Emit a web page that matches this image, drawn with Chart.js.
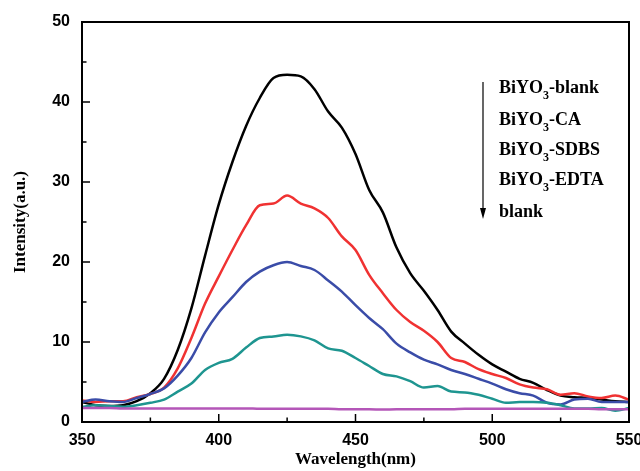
<!DOCTYPE html>
<html>
<head>
<meta charset="utf-8">
<script src="https://cdn.jsdelivr.net/npm/chart.js@4"></script>
<style>
  body { margin: 0; background: #fff; }
  canvas { display: block; }
</style>
</head>
<body>
<canvas id="chart_pl" width="640" height="471"></canvas>
<script>
// PL spectra of BiYO3 samples

// wavelength grid (nm)
var wavelengths = [350, 355, 360, 365, 370, 375, 380, 385, 390, 395,
                   400, 405, 410, 415, 420, 425, 430, 435, 440, 445,
                   450, 455, 460, 465, 470, 475, 480, 485, 490, 495,
                   500, 505, 510, 515, 520, 525, 530, 535, 540, 545, 550];

// intensities
var blankBiYO3 = [2.5, 2.1, 2.0, 2.1, 2.6, 3.6, 5.4, 9.0, 14.2, 20.8,
                  27.2, 32.5, 37.0, 40.5, 43.0, 43.4, 43.2, 41.6, 38.8, 36.8,
                  33.5, 29.0, 26.2, 21.8, 18.6, 16.4, 14.0, 11.3, 9.8, 8.4,
                  7.2, 6.3, 5.4, 4.9, 4.0, 3.3, 3.1, 3.0, 2.8, 2.6, 2.5];
var caBiYO3 = [2.7, 2.5, 2.6, 2.6, 3.1, 3.5, 4.3, 6.7, 10.5, 14.8,
               18.2, 21.5, 24.6, 27.1, 27.3, 28.3, 27.3, 26.7, 25.5, 23.2,
               21.5, 18.4, 16.1, 14.0, 12.5, 11.4, 10.0, 8.0, 7.5, 6.6,
               6.0, 5.5, 4.7, 4.3, 4.1, 3.4, 3.6, 3.2, 3.0, 3.3, 2.8];
var sdbsBiYO3 = [2.5, 2.8, 2.6, 2.5, 3.0, 3.5, 4.2, 5.8, 8.0, 11.2,
                 13.7, 15.6, 17.5, 18.8, 19.6, 20.0, 19.5, 19.0, 17.7, 16.3,
                 14.6, 13.0, 11.6, 9.8, 8.7, 7.8, 7.2, 6.5, 6.0, 5.4,
                 4.8, 4.1, 3.6, 3.3, 2.4, 2.2, 2.8, 2.9, 2.5, 2.5, 2.5];
var edtaBiYO3 = [1.9, 2.1, 2.0, 1.9, 2.1, 2.4, 2.8, 3.8, 4.8, 6.5,
                 7.4, 7.9, 9.3, 10.5, 10.7, 10.9, 10.7, 10.2, 9.2, 8.9,
                 8.0, 7.0, 6.0, 5.7, 5.1, 4.3, 4.5, 3.8, 3.7, 3.4,
                 2.9, 2.4, 2.5, 2.5, 2.4, 2.1, 1.7, 1.7, 1.75, 1.4, 1.75];
var blankOnly = [1.75, 1.75, 1.75, 1.7, 1.7, 1.7, 1.7, 1.7, 1.7, 1.7,
                 1.7, 1.7, 1.7, 1.65, 1.65, 1.65, 1.65, 1.65, 1.65, 1.6,
                 1.6, 1.6, 1.55, 1.6, 1.6, 1.6, 1.6, 1.6, 1.65, 1.65,
                 1.65, 1.65, 1.65, 1.65, 1.65, 1.65, 1.65, 1.65, 1.6, 1.6, 1.6];

var seriesNames = ["BiYO3-blank", "BiYO3-CA", "BiYO3-SDBS", "BiYO3-EDTA", "blank"];
var seriesColors = ["#000000", "#f03232", "#3a4ca8", "#1e9590", "#b456b8"];
var seriesValues = [blankBiYO3, caBiYO3, sdbsBiYO3, edtaBiYO3, blankOnly];

var xTicks = [350, 400, 450, 500, 550];
var yTicks = [0, 10, 20, 30, 40, 50];

// build datasets from the arrays above
function makePoints(vals) {
    var pts = [];
    for (var i = 0; i < wavelengths.length; i++) {
        pts.push({x: wavelengths[i], y: vals[i]});
    }
    return pts;
}

var datasets = [];
// draw the blank first so the others lie above it
for (var i = seriesValues.length - 1; i >= 0; i--) {
    datasets.push({
        label: seriesNames[i],
        data: makePoints(seriesValues[i]),
        borderColor: seriesColors[i],
        borderWidth: 2.5,
        pointRadius: 0,
        cubicInterpolationMode: "monotone",
        fill: false
    });
}

// frame + inward ticks, like the origin plot
var framePlugin = {
    id: "frame",
    afterDatasetsDraw: function(chart) {
        var c = chart.ctx;
        var a = chart.chartArea;
        var xs = chart.scales.x, ys = chart.scales.y;
        c.save();
        c.strokeStyle = "#000";
        c.lineWidth = 2;
        c.strokeRect(a.left, a.top, a.right - a.left, a.bottom - a.top);
        c.lineWidth = 1.5;
        c.beginPath();
        for (var v = 350; v <= 550; v += 25) {
            var px = xs.getPixelForValue(v);
            var len = (v % 50 === 0) ? 8 : 4.5;
            c.moveTo(px, a.bottom);
            c.lineTo(px, a.bottom - len);
        }
        for (var w = 0; w <= 50; w += 5) {
            var py = ys.getPixelForValue(w);
            var len2 = (w % 10 === 0) ? 8 : 4.5;
            c.moveTo(a.left, py);
            c.lineTo(a.left + len2, py);
        }
        c.stroke();
        c.restore();
    }
};

// legend drawn as in the picture: arrow and names with subscript 3
var legendPlugin = {
    id: "arrowLegend",
    afterDraw: function(chart) {
        var c = chart.ctx;
        c.save();
        c.strokeStyle = "#000";
        c.fillStyle = "#000";
        c.lineWidth = 1.2;
        c.beginPath();
        c.moveTo(483, 82);
        c.lineTo(483, 210);
        c.stroke();
        c.beginPath();
        c.moveTo(480, 208);
        c.lineTo(486, 208);
        c.lineTo(483, 219);
        c.closePath();
        c.fill();

        var baseY = [93, 125, 155, 185, 217];
        var textX = 499;
        var bigFont = "bold 18px 'Liberation Serif', 'Times New Roman', serif";
        var subFont = "bold 12px 'Liberation Serif', 'Times New Roman', serif";
        for (var i = 0; i < seriesNames.length; i++) {
            var name = seriesNames[i];
            c.font = bigFont;
            c.textBaseline = "alphabetic";
            if (name.indexOf("BiYO3") === 0) {
                c.fillText("BiYO", textX, baseY[i]);
                var wd = c.measureText("BiYO").width;
                c.font = subFont;
                c.fillText("3", textX + wd, baseY[i] + 6);
                var ws = c.measureText("3").width;
                c.font = bigFont;
                c.fillText(name.substring(5), textX + wd + ws, baseY[i]);
            } else {
                c.fillText(name, textX, baseY[i]);
            }
        }
        c.restore();
    }
};

var ctxPL = document.getElementById("chart_pl").getContext("2d");
var ChartPL = new Chart(ctxPL, {
    type: "line",
    data: { datasets: datasets },
    options: {
        responsive: false,
        animation: false,
        layout: { padding: { left: 0, right: 11, top: 22, bottom: 0 } },
        plugins: {
            legend: { display: false },
            tooltip: { enabled: false }
        },
        scales: {
            x: {
                type: "linear",
                min: 350,
                max: 550,
                afterBuildTicks: function(scale) {
                    scale.ticks = xTicks.map(function(v) { return {value: v}; });
                },
                afterFit: function(scale) {
                    scale.height = 49;
                    scale.paddingLeft = 0;
                    scale.paddingRight = 0;
                },
                grid: { display: false, drawTicks: false },
                border: { display: false },
                ticks: {
                    color: "#000",
                    padding: 9,
                    maxRotation: 0,
                    font: { family: "'Liberation Sans', Arial, sans-serif", weight: "bold", size: 16 }
                },
                title: {
                    display: true,
                    text: "Wavelength(nm)",
                    color: "#000",
                    padding: { top: 0, bottom: 1 },
                    font: { family: "'Liberation Serif', 'Times New Roman', serif", weight: "bold", size: 17 }
                }
            },
            y: {
                min: 0,
                max: 50,
                afterBuildTicks: function(scale) {
                    scale.ticks = yTicks.map(function(v) { return {value: v}; });
                },
                afterFit: function(scale) {
                    scale.width = 82;
                    scale.paddingTop = 0;
                    scale.paddingBottom = 0;
                },
                grid: { display: false, drawTicks: false },
                border: { display: false },
                ticks: {
                    color: "#000",
                    padding: 12,
                    font: { family: "'Liberation Sans', Arial, sans-serif", weight: "bold", size: 16 }
                },
                title: {
                    display: true,
                    text: "Intensity(a.u.)",
                    color: "#000",
                    padding: { top: 10, bottom: 0 },
                    font: { family: "'Liberation Serif', 'Times New Roman', serif", weight: "bold", size: 17 }
                }
            }
        }
    },
    plugins: [framePlugin, legendPlugin]
});
</script>
</body>
</html>
